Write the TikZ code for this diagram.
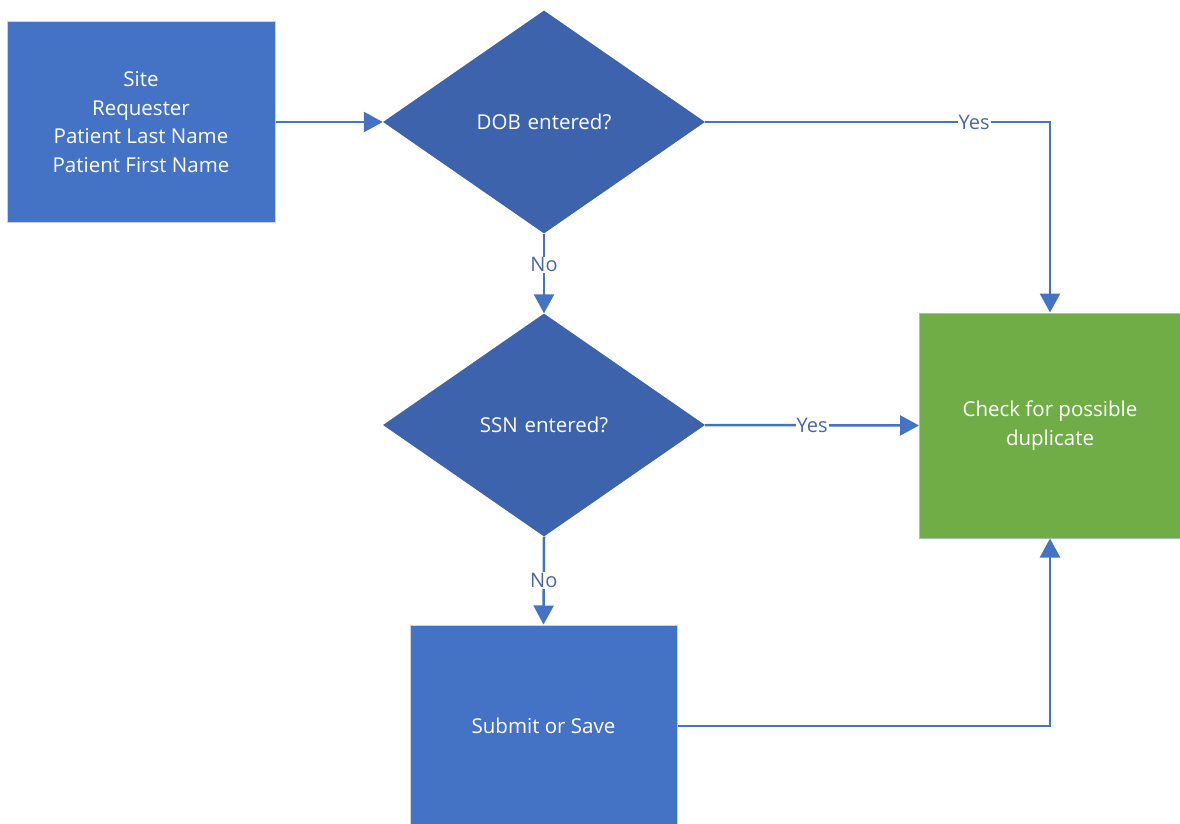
\documentclass[tikz,border=0pt]{standalone}
\usepackage{fontspec}
\setmainfont{Open Sans}
\usetikzlibrary{shapes.geometric,arrows.meta,positioning}
\definecolor{boxblue}{HTML}{4472C4}
\definecolor{diablue}{HTML}{3D63AD}
\definecolor{boxgreen}{HTML}{70AD47}
\definecolor{edgegray}{HTML}{C9D3E3}
\definecolor{linkblue}{HTML}{4472C4}
\definecolor{labcol}{HTML}{4A66A8}
\begin{document}
\begin{tikzpicture}[x=1pt,y=-1pt,
  every node/.style={font=\fontsize{20.5}{28.5}\selectfont},
  procbox/.style={rectangle,fill=boxblue,draw=edgegray,line width=1pt,text=white,align=center,inner sep=0pt},
  greenbox/.style={rectangle,fill=boxgreen,draw=edgegray!60!boxgreen,line width=1pt,text=white,align=center,inner sep=0pt},
  decision/.style={diamond,fill=diablue,draw=none,text=white,align=center,inner sep=0pt,minimum width=322pt,minimum height=223pt,text width=170pt},
  link/.style={draw=linkblue,line width=2.5pt,-{Triangle[width=20pt,length=19pt]}},
  lab/.style={fill=white,text=labcol,inner sep=1pt,font=\fontsize{20}{22}\selectfont}
]
\useasboundingbox (0,0) rectangle (1180,824);
\node[procbox,minimum width=268pt,minimum height=200pt] (start) at (141,122) {Site\\Requester\\Patient Last Name\\Patient First Name};
\node[decision] (dob) at (544,122) {DOB entered?};
\node[decision] (ssn) at (544,425) {SSN entered?};
\node[greenbox,minimum width=261pt,minimum height=225pt] (dup) at (1050,425.5) {Check for possible\\duplicate};
\node[procbox,minimum width=267pt,minimum height=202pt] (save) at (543.5,726) {Submit or Save};

\draw[link] (start.east) -- (dob.west);
\draw[link] (dob.east) -| node[lab,pos=0.39] {Yes} (dup.north);
\draw[link] (dob.south) -- node[lab,pos=0.39] {No} (ssn.north);
\draw[link] (ssn.east) -- node[lab,pos=0.5] {Yes} (dup.west);
\draw[link] (ssn.south) -- node[lab,pos=0.5] {No} (save.north);
\draw[link] (save.east) -| (dup.south);
\end{tikzpicture}
\end{document}
